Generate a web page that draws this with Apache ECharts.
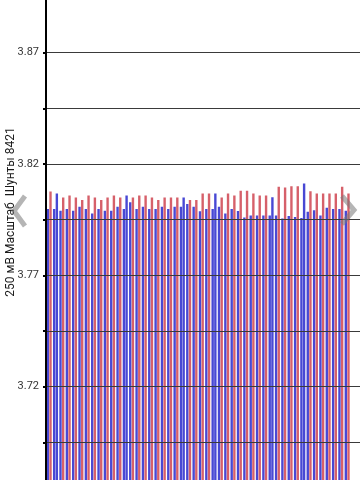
<!DOCTYPE html>
<html>
<head>
<meta charset="utf-8">
<script src="https://cdn.jsdelivr.net/npm/echarts@6/dist/echarts.min.js"></script>
<style>html,body{margin:0;padding:0;background:#fff;}#c{width:360px;height:480px;}</style>
</head>
<body>
<div id="c"></div>
<script>
const categories = ['1','2','3','4','5','6','7','8','9','10','11','12','13','14','15','16','17','18','19','20','21','22','23','24','25','26','27','28','29','30','31','32','33','34','35','36','37','38','39','40','41','42','43','44','45','46','47','48'];
const blueValues = [3.7998,3.7998,3.7990,3.7998,3.7990,3.8008,3.7998,3.7978,3.7998,3.7990,3.7990,3.8008,3.7998,3.8028,3.7998,3.8008,3.7998,3.7998,3.8008,3.7998,3.8008,3.8008,3.8020,3.8008,3.7988,3.7998,3.7998,3.8008,3.7978,3.7998,3.7989,3.7960,3.7969,3.7969,3.7969,3.7969,3.7969,3.7955,3.7967,3.7962,3.7958,3.7985,3.7992,3.7969,3.8004,3.7998,3.7998,3.7990];
const redValues = [3.8077,3.8068,3.8050,3.8058,3.8050,3.8038,3.8058,3.8050,3.8038,3.8050,3.8058,3.8050,3.8058,3.8050,3.8058,3.8058,3.8050,3.8038,3.8050,3.8050,3.8050,3.8050,3.8038,3.8038,3.8068,3.8068,3.8068,3.8050,3.8068,3.8058,3.8080,3.8080,3.8068,3.8058,3.8058,3.8051,3.8098,3.8094,3.8100,3.8100,3.8112,3.8078,3.8067,3.8067,3.8067,3.8067,3.8098,3.8067];
const blueSlotsInRed = [1,12,21,26,35,40];
const yTicks = {min: 3.67, max: 3.895, interval: 0.025};
const yName = '250 мВ Масштаб  Шунты 8421';

const RED = '#d6606a';
const BLUE = '#4848d4';

const chart = echarts.init(document.getElementById('c'), null, {renderer: 'canvas'});
chart.setOption({
  animation: false,
  backgroundColor: '#ffffff',
  grid: {left: 46, right: -3, top: -3, bottom: -18, containLabel: false, outerBoundsMode: 'none'},
  xAxis: {
    type: 'category',
    data: categories,
    max: 49,
    axisLine: {show: false},
    axisTick: {show: false},
    axisLabel: {show: false},
    splitLine: {show: false}
  },
  yAxis: {
    type: 'value',
    min: yTicks.min,
    max: yTicks.max,
    interval: yTicks.interval,
    z: 5,
    axisLine: {show: true, lineStyle: {color: '#000', width: 2}},
    axisTick: {show: true, length: 3, lineStyle: {color: '#000', width: 2}},
    axisLabel: {
      margin: 7,
      color: '#333',
      fontFamily: 'Roboto',
      fontSize: 11,
      formatter: function (v, i) { return i % 2 === 0 ? v.toFixed(2) : ''; }
    },
    splitLine: {show: true, lineStyle: {color: '#3a3a3a', width: 1}}
  },
  graphic: [
    {type: 'text', x: 11, y: 212, rotation: Math.PI / 2,
     style: {text: yName, align: 'center', verticalAlign: 'middle', font: '12px Roboto', fill: '#1a1a1a'}},
    {type: 'polyline', z: 100, shape: {points: [[25, 196], [14, 211], [25, 226]]},
     style: {stroke: 'rgba(120,120,120,0.55)', lineWidth: 5, fill: null}},
    {type: 'polyline', z: 100, shape: {points: [[342, 196], [354, 210], [342, 224]]},
     style: {stroke: 'rgba(120,120,120,0.55)', lineWidth: 5, fill: null}}
  ],
  series: [
    {
      type: 'bar',
      data: blueValues,
      barCategoryGap: '20%',
      barGap: '12%',
      itemStyle: {color: BLUE}
    },
    {
      type: 'bar',
      data: redValues.map(function (v, i) {
        return {value: v, itemStyle: {color: blueSlotsInRed.indexOf(i) >= 0 ? BLUE : RED}};
      }),
      barCategoryGap: '20%',
      barGap: '12%'
    }
  ]
});
</script>
</body>
</html>
